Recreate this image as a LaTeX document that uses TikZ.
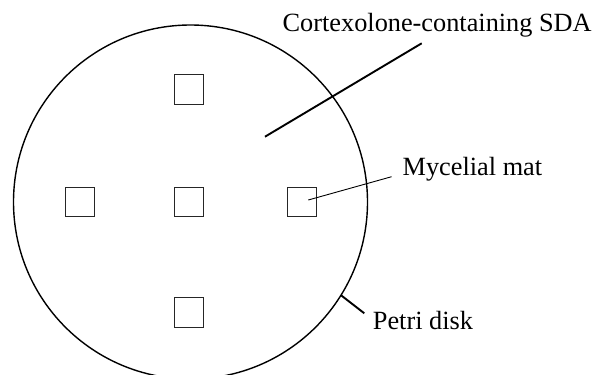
\documentclass[tikz,border=0pt]{standalone}
\usepackage{fontspec}
\setmainfont{Liberation Serif}
\begin{document}
\begin{tikzpicture}[x=1pt,y=-1pt,
  label/.style={anchor=base west,inner sep=0pt,font=\fontsize{26.3}{30}\selectfont},
  plug/.style={draw=black!85,line width=1.1pt,minimum size=29.5pt,inner sep=0pt,fill=white},
  thin leader/.style={line width=0.9pt},
  thick leader/.style={line width=1.9pt}]
\useasboundingbox (0,0) rectangle (595,375);
% Petri dish outline
\node[circle,draw,line width=1.4pt,minimum size=354pt,inner sep=0pt] (dish) at (190.5,202) {};
% Mycelial plugs
\node[plug] (ptop) at (189,89.5) {};
\node[plug] (pleft) at (80,202) {};
\node[plug] (pmid) at (189,202) {};
\node[plug] (pright) at (302,202) {};
\node[plug] (pbot) at (189,312.3) {};
% Labels
\node[label] (sda) at (282.5,31.7) {Cortexolone-containing SDA};
\node[label] (mat) at (402.5,175) {Mycelial mat};
\node[label] (petri) at (372.7,329.3) {Petri disk};
% Leader lines
\coordinate (sdaIn) at (265,136.7);
\coordinate (sdaOut) at (421.7,43.3);
\coordinate (matIn) at (308.3,200);
\coordinate (matOut) at (391.6,176.7);
\coordinate (petriIn) at (340.7,295);
\coordinate (petriOut) at (364.3,313.3);
\draw[thick leader] (sdaIn) -- (sdaOut);
\draw[thin leader] (matIn) -- (matOut);
\draw[thick leader] (petriIn) -- (petriOut);
\end{tikzpicture}
\end{document}
